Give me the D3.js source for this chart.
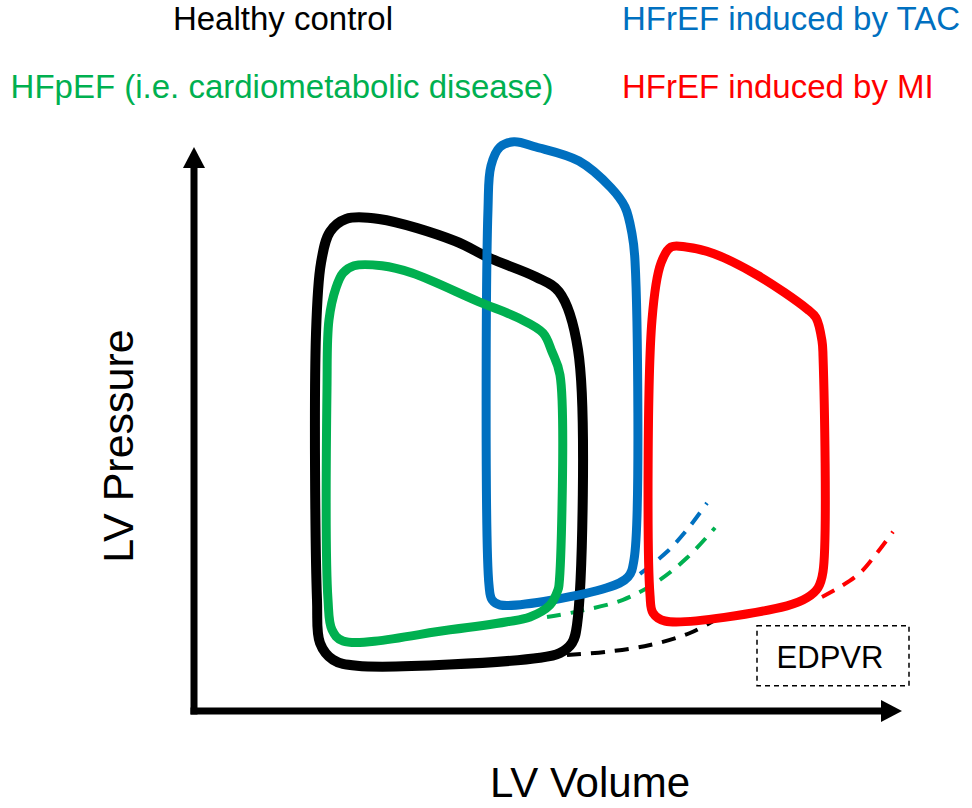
<!DOCTYPE html>
<html>
<head>
<meta charset="utf-8">
<script src="https://cdn.jsdelivr.net/npm/d3@7"></script>
<style>
  html, body { margin: 0; padding: 0; background: #fff; }
  svg { display: block; font-family: "Liberation Sans", Arial, sans-serif; }
</style>
</head>
<body>
<svg id="chart" width="972" height="808"></svg>
<script>
// legend / series labels
const seriesNames = ["Healthy control", "HFpEF (i.e. cardiometabolic disease)", "HFrEF induced by TAC", "HFrEF induced by MI"];
const axisLabels = ["LV Volume", "LV Pressure"];
const boxLabel = "EDPVR";

// pressure-volume loops, [volume, pressure] in arbitrary units
const healthyLoop = [
  [30.4, 123], [37, 123], [52.2, 117.5], [59, 113.3], [68.4, 108.5], [73, 104.8],
  [76.8, 90.3], [76.6, 21.5], [75.6, 17], [73.2, 14.5], [69.2, 13.3],
  [32.6, 11.3], [27.8, 12.8], [25.2, 17], [24.6, 27.8], [24.4, 94.3], [25.4, 112], [27.2, 119.8]
];
const hfpefLoop = [
  [32, 111.3], [37.6, 111.3], [43.6, 109.5], [57, 102.3], [64.8, 98.3], [69.8, 94.5],
  [71.6, 89.8], [73.2, 84], [73, 31.5], [72.8, 30.3], [71.2, 26.5], [67.2, 23.5], [62.6, 22.3],
  [51.2, 20.3], [29.8, 17.5], [27.6, 20.3], [26.8, 27.8], [26.6, 80.8], [27, 97.8], [28.4, 105.8], [29.8, 109.5]
];
const tacLoop = [
  [64, 142.3], [68.4, 141], [77, 137.5], [83.4, 130.8], [86.2, 126], [87.6, 119.3],
  [88.2, 112.5], [88, 37.8], [86.8, 33.5], [82.6, 30.8], [61.2, 26.5], [59.6, 27.8],
  [59, 31.5], [58.8, 125.5], [59.4, 136.3], [61.2, 141]
];
const miLoop = [
  [98.4, 116], [104, 114.3], [112.6, 109], [122.6, 100.5], [124.4, 98.3], [125.6, 92.5],
  [125.8, 88.8], [125.8, 34.8], [124.8, 30.8], [122.6, 28.3], [118.6, 26.3],
  [94.2, 22.5], [91.8, 24.5], [91.2, 29], [91.6, 97.8], [93.4, 112], [95.4, 116]
];

// end-diastolic pressure-volume relations
const healthyEdpvr = [[74.6, 14], [82.6, 14.8], [91.2, 16.5], [99.2, 19.5], [105.2, 23.5]];
const hfpefEdpvr = [[70.6, 23.5], [77.2, 25], [85.8, 27.8], [92.6, 32.3], [98.6, 38.3], [104.2, 45.8]];
const tacEdpvr = [[89.2, 34.3], [94.6, 39.8], [98.6, 45.3], [102.6, 52]];
const miEdpvr = [[125.6, 28.5], [129.2, 31], [133.2, 34.5], [136.6, 39.5], [139.8, 44.8]];

const volumeMax = 141.6;
const pressureMax = 141;
const edpvrBox = [[112.6, 6.3], [143, 21.3]];

const colors = { healthy: "#000000", hfpef: "#00B050", tac: "#0070C0", mi: "#FF0000" };

const svg = d3.select("#chart");

const x = d3.scaleLinear().domain([0, volumeMax]).range([194, 902]);
const y = d3.scaleLinear().domain([0, pressureMax]).range([711, 147]);

// axes drawn as arrows
const axisW = 7;
const head = 21; // arrow head length
svg.append("line")
  .attr("x1", x(0)).attr("y1", y(0) + axisW / 2)
  .attr("x2", x(0)).attr("y2", y(pressureMax) + head)
  .attr("stroke", "#000").attr("stroke-width", axisW);
svg.append("path")
  .attr("d", `M${x(0)},${y(pressureMax)}L${x(0) + 11},${y(pressureMax) + head}L${x(0) - 11},${y(pressureMax) + head}Z`)
  .attr("fill", "#000");
svg.append("line")
  .attr("x1", x(0) - axisW / 2).attr("y1", y(0))
  .attr("x2", x(volumeMax) - head).attr("y2", y(0))
  .attr("stroke", "#000").attr("stroke-width", axisW);
svg.append("path")
  .attr("d", `M${x(volumeMax)},${y(0)}L${x(volumeMax) - head},${y(0) - 11}L${x(volumeMax) - head},${y(0) + 11}Z`)
  .attr("fill", "#000");

// axis titles
svg.append("text")
  .attr("x", 590).attr("y", 797)
  .attr("text-anchor", "middle")
  .attr("font-size", 42)
  .text(axisLabels[0]);
svg.append("text")
  .attr("transform", "translate(133,446) rotate(-90)")
  .attr("text-anchor", "middle")
  .attr("font-size", 43)
  .text(axisLabels[1]);

// legend text
const legend = [
  { name: seriesNames[0], color: colors.healthy, x: 283, y: 30, anchor: "middle" },
  { name: seriesNames[1], color: colors.hfpef, x: 282, y: 98, anchor: "middle" },
  { name: seriesNames[2], color: colors.tac, x: 622, y: 30, anchor: "start" },
  { name: seriesNames[3], color: colors.mi, x: 622, y: 98, anchor: "start" },
];
svg.selectAll(".legend")
  .data(legend)
  .enter()
  .append("text")
  .attr("class", "legend")
  .attr("x", (d) => d.x)
  .attr("y", (d) => d.y)
  .attr("text-anchor", (d) => d.anchor)
  .attr("font-size", 33)
  .attr("fill", (d) => d.color)
  .text((d) => d.name);

// EDPVR lines
const edpvrLine = d3.line()
  .x((d) => x(d[0]))
  .y((d) => y(d[1]))
  .curve(d3.curveCatmullRom.alpha(0.5));

const edpvrs = [
  { pts: healthyEdpvr, color: colors.healthy },
  { pts: hfpefEdpvr, color: colors.hfpef },
  { pts: tacEdpvr, color: colors.tac },
  { pts: miEdpvr, color: colors.mi },
];
svg.selectAll(".edpvr")
  .data(edpvrs)
  .enter()
  .append("path")
  .attr("class", "edpvr")
  .attr("d", (d) => edpvrLine(d.pts))
  .attr("fill", "none")
  .attr("stroke", (d) => d.color)
  .attr("stroke-width", 4)
  .attr("stroke-dasharray", "14,10");

// PV loops
const loopLine = d3.line()
  .x((d) => x(d[0]))
  .y((d) => y(d[1]))
  .curve(d3.curveCatmullRomClosed.alpha(0.5));

const loops = [
  { pts: healthyLoop, color: colors.healthy, w: 10 },
  { pts: tacLoop, color: colors.tac, w: 9 },
  { pts: hfpefLoop, color: colors.hfpef, w: 9 },
  { pts: miLoop, color: colors.mi, w: 9 },
];
svg.selectAll(".loop")
  .data(loops)
  .enter()
  .append("path")
  .attr("class", "loop")
  .attr("d", (d) => loopLine(d.pts))
  .attr("fill", "none")
  .attr("stroke", (d) => d.color)
  .attr("stroke-width", (d) => d.w)
  .attr("stroke-linejoin", "round");

// EDPVR label box
svg.append("rect")
  .attr("x", x(edpvrBox[0][0]))
  .attr("y", y(edpvrBox[1][1]))
  .attr("width", x(edpvrBox[1][0]) - x(edpvrBox[0][0]))
  .attr("height", y(edpvrBox[0][1]) - y(edpvrBox[1][1]))
  .attr("fill", "none")
  .attr("stroke", "#000")
  .attr("stroke-width", 1.5)
  .attr("stroke-dasharray", "5,4");
svg.append("text")
  .attr("x", (x(edpvrBox[0][0]) + x(edpvrBox[1][0])) / 2 - 3)
  .attr("y", 668)
  .attr("text-anchor", "middle")
  .attr("font-size", 31)
  .text(boxLabel);
</script>
</body>
</html>
